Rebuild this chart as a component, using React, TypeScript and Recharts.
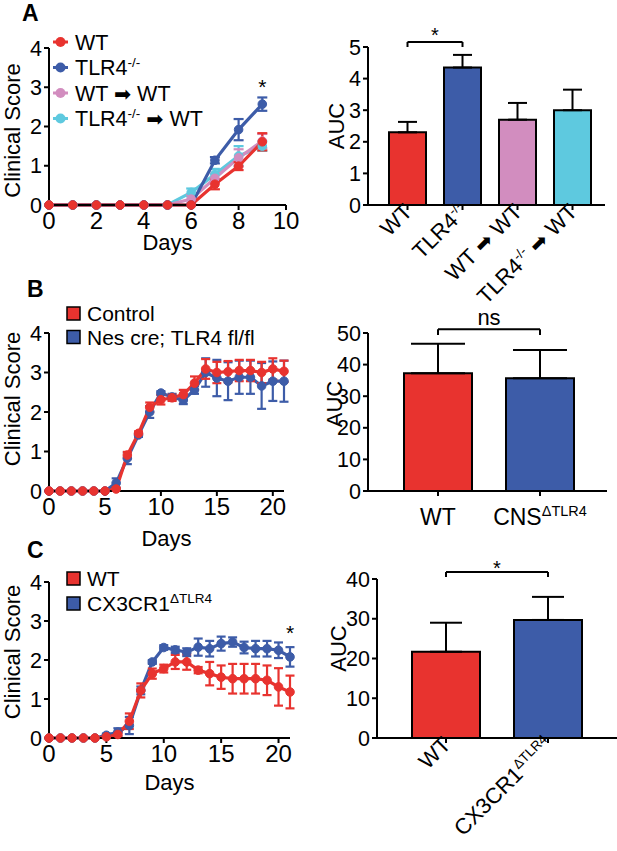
import React from 'react';
import {
  LineChart, Line, XAxis, YAxis, ErrorBar, BarChart, Bar, Cell,
  ReferenceLine, ReferenceDot,
} from 'recharts';

const FONT = '"Liberation Sans", Arial, Helvetica, sans-serif';
const RED = '#E8332F';
const BLUE = '#3D5CA8';
const PINK = '#D28DBF';
const CYAN = '#5EC9DF';

// ---------- Panel A: clinical score ----------
const daysA = [0, 1, 2, 3, 4, 5, 6, 7, 8, 9];
const aWT = [0, 0, 0, 0, 0, 0, 0, 0.53, 0.99, 1.61];
const aWTErr = [0, 0, 0, 0, 0, 0, 0, 0.13, 0.1, 0.22];
const aKO = [0, 0, 0, 0, 0, 0, 0, 1.14, 1.92, 2.57];
const aKOErr = [0, 0, 0, 0, 0, 0, 0, 0.08, 0.27, 0.17];
const aWW = [0, 0, 0, 0, 0, 0, 0.15, 0.68, 1.2, 1.63];
const aWWErr = [0, 0, 0, 0, 0, 0, 0.1, 0.12, 0.22, 0.18];
const aKW = [0, 0, 0, 0, 0, 0, 0.32, 0.78, 1.25, 1.5];
const aKWErr = [0, 0, 0, 0, 0, 0, 0.1, 0.14, 0.25, 0.12];
const aNames = ['WT', 'TLR4^{-/-}', 'WT ➡ WT', 'TLR4^{-/-} ➡ WT'];

// ---------- Panel A: AUC ----------
const aucACats = ['WT', 'TLR4^{-/-}', 'WT ➡ WT', 'TLR4^{-/-} ➡ WT'];
const aucAVals = [2.3, 4.35, 2.7, 3.0];
const aucAErr = [0.33, 0.4, 0.53, 0.65];

// ---------- Panel B: clinical score ----------
const daysBC = [0, 1, 2, 3, 4, 5, 6, 7, 8, 9, 10, 11, 12, 13, 14, 15, 16, 17, 18, 19, 20, 21];
const bCtl = [0, 0, 0, 0, 0, 0, 0.05, 0.91, 1.46, 2.12, 2.31, 2.36, 2.44, 2.73, 3.09, 3.0, 3.02, 3.05, 3.05, 3.0, 3.09, 3.03];
const bCtlErr = [0, 0, 0, 0, 0, 0, 0.04, 0.08, 0.05, 0.12, 0.12, 0.08, 0.12, 0.17, 0.25, 0.27, 0.27, 0.27, 0.27, 0.27, 0.27, 0.27];
const bNes = [0, 0, 0, 0, 0, 0, 0.2, 0.83, 1.42, 2.0, 2.48, 2.38, 2.3, 2.56, 3.0, 2.86, 2.78, 2.88, 2.88, 2.66, 2.78, 2.78];
const bNesErr = [0, 0, 0, 0, 0, 0, 0.12, 0.15, 0.05, 0.15, 0.05, 0.08, 0.1, 0.1, 0.36, 0.46, 0.48, 0.42, 0.42, 0.58, 0.5, 0.52];
const bNames = ['Control', 'Nes cre; TLR4 fl/fl'];

// ---------- Panel B: AUC ----------
const aucBCats = ['WT', 'CNS^{ΔTLR4}'];
const aucBVals = [37.3, 35.7];
const aucBErr = [9.3, 8.9];

// ---------- Panel C: clinical score ----------
const cWT = [0, 0, 0, 0, 0, 0.03, 0.09, 0.43, 1.22, 1.65, 1.78, 1.95, 1.95, 1.74, 1.65, 1.56, 1.52, 1.52, 1.52, 1.48, 1.31, 1.18];
const cWTErr = [0, 0, 0, 0, 0, 0.03, 0.05, 0.2, 0.18, 0.13, 0.1, 0.18, 0.2, 0.08, 0.3, 0.3, 0.38, 0.38, 0.38, 0.38, 0.48, 0.42];
const cKO = [0, 0, 0, 0, 0, 0.07, 0.15, 0.32, 1.22, 1.95, 2.32, 2.26, 2.2, 2.33, 2.29, 2.42, 2.46, 2.32, 2.29, 2.29, 2.25, 2.08];
const cKOErr = [0, 0, 0, 0, 0, 0.04, 0.1, 0.22, 0.1, 0.05, 0.06, 0.08, 0.1, 0.22, 0.2, 0.18, 0.12, 0.15, 0.2, 0.2, 0.2, 0.25];
const cNames = ['WT', 'CX3CR1^{ΔTLR4}'];

// ---------- Panel C: AUC ----------
const aucCCats = ['WT', 'CX3CR1^{ΔTLR4}'];
const aucCVals = [21.7, 29.7];
const aucCErr = [7.3, 5.8];

// ---------- tables ----------
const dataA = daysA.map((d, i) => ({
  day: d, wt: aWT[i], wtE: aWTErr[i], ko: aKO[i], koE: aKOErr[i],
  ww: aWW[i], wwE: aWWErr[i], kw: aKW[i], kwE: aKWErr[i],
}));
const dataB = daysBC.map((d, i) => ({ day: d, c: bCtl[i], cE: bCtlErr[i], n: bNes[i], nE: bNesErr[i] }));
const dataC = daysBC.map((d, i) => ({ day: d, w: cWT[i], wE: cWTErr[i], k: cKO[i], kE: cKOErr[i] }));
const mkBar = (cats: string[], vals: number[], errs: number[]) =>
  cats.map((c, i) => ({ name: c, v: vals[i], e: [0, errs[i]] }));
const barA = mkBar(aucACats, aucAVals, aucAErr);
const barB = mkBar(aucBCats, aucBVals, aucBErr);
const barC = mkBar(aucCCats, aucCVals, aucCErr);

const AX = { stroke: '#000', strokeWidth: 2 };
const yTick = { fill: '#000', fontSize: 21.5, fontFamily: FONT };
const xTick = { fill: '#000', fontSize: 24, fontFamily: FONT };
const titleStyle = { fill: '#000', fontSize: 22, fontFamily: FONT };

// rich text: ^{...} superscript, ➡ arrow
function rich(text: string, size: number, supSize: number) {
  const out: any[] = [];
  const re = /\^\{([^}]*)\}|(➡)|([^\^➡]+)/g;
  let m: RegExpExecArray | null;
  let shift = 0;
  let i = 0;
  const rise = size * 0.38;
  while ((m = re.exec(text))) {
    if (m[1] !== undefined) {
      out.push(<tspan key={i++} dy={-rise} fontSize={supSize}>{m[1]}</tspan>);
      shift = rise;
    } else if (m[2]) {
      out.push(<tspan key={i++} dy={shift} fontFamily='"DejaVu Sans", sans-serif' fontSize={size * 0.95}>{'➡'}</tspan>);
      shift = 0;
    } else {
      out.push(<tspan key={i++} dy={shift}>{m[3]}</tspan>);
      shift = 0;
    }
  }
  return out;
}

const RotTick = (props: any) => {
  const { x, y, payload } = props;
  return (
    <g transform={`translate(${x + 6},${y + 1}) rotate(-45)`}>
      <text x={0} y={0} dy={16} textAnchor="end" fill="#000" fontSize={22} fontFamily={FONT}>
        {rich(String(payload.value), 22, 13.5)}
      </text>
    </g>
  );
};

const FlatTick = (props: any) => {
  const { x, y, payload } = props;
  return (
    <text x={x} y={y + 27} textAnchor="middle" fill="#000" fontSize={23} fontFamily={FONT}>
      {rich(String(payload.value), 23, 14.5)}
    </text>
  );
};

type S = { key: string; err: string; color: string };

function ScorePanel(p: {
  data: any[]; series: S[]; domain: [number, number]; ticks: number[];
  mTop: number; plotH: number; mRight: number; xH: number; labelDy: number;
  star?: { x: number; y: number }; capW: number;
}) {
  return (
    <LineChart width={300} height={p.mTop + p.plotH + p.xH} data={p.data}
      margin={{ top: p.mTop, right: p.mRight, bottom: 0, left: 0 }}>
      <XAxis type="number" dataKey="day" domain={p.domain} ticks={p.ticks} interval={0}
        height={p.xH} axisLine={AX} tickLine={AX} tick={xTick} tickSize={5} tickMargin={2}
        label={{ value: 'Days', position: 'center', ...titleStyle }} />
      <YAxis type="number" domain={[0, 4]} ticks={[0, 1, 2, 3, 4]} interval={0} width={49}
        axisLine={AX} tickLine={AX} tick={yTick} tickSize={5} tickMargin={2}
        label={{ value: 'Clinical Score', angle: -90, position: 'center', dx: -12, dy: p.labelDy, ...titleStyle }} />
      {p.series.map((s) => (
        <Line key={s.key} dataKey={s.key} stroke={s.color} strokeWidth={3.2} isAnimationActive={false}
          dot={{ r: 4.3, fill: s.color, stroke: s.color, strokeWidth: 1 }} activeDot={false}>
          <ErrorBar dataKey={s.err} direction="y" width={p.capW} stroke={s.color} strokeWidth={2.2} isAnimationActive={false} />
        </Line>
      ))}
      {p.star && (
        <ReferenceDot x={p.star.x} y={p.star.y} r={0} fill="none" stroke="none" ifOverflow="visible"
          label={{ value: '*', position: 'center', fontSize: 21, fill: '#000', fontFamily: FONT }} />
      )}
    </LineChart>
  );
}

function AucPanel(p: {
  data: any[]; colors: string[]; yMax: number; yTicks: number[]; width: number;
  mTop: number; plotH: number; mRight: number; yW: number; xH: number; pad: { left: number; right: number };
  barSize: number; capW: number; rotated: boolean; labelDy: number; labelDx: number;
  bracket: { a: string; b: string; y1: number; y0: number; text: string; fs: number; off: number };
}) {
  const br = p.bracket;
  return (
    <BarChart width={p.width} height={p.mTop + p.plotH + p.xH} data={p.data}
      margin={{ top: p.mTop, right: p.mRight, bottom: 0, left: 0 }}>
      <XAxis dataKey="name" type="category" interval={0} padding={p.pad} height={p.xH}
        axisLine={AX} tickLine={AX} tickSize={5} tickMargin={2}
        tick={p.rotated ? <RotTick /> : <FlatTick />} />
      <YAxis type="number" domain={[0, p.yMax]} ticks={p.yTicks} interval={0} width={p.yW}
        axisLine={AX} tickLine={AX} tick={yTick} tickSize={5} tickMargin={2}
        label={{ value: 'AUC', angle: -90, position: 'center', dx: p.labelDx, dy: p.labelDy, ...titleStyle }} />
      <Bar dataKey="v" barSize={p.barSize} stroke="#000" strokeWidth={2} isAnimationActive={false}>
        {p.data.map((d, i) => <Cell key={d.name} fill={p.colors[i]} />)}
        <ErrorBar dataKey="e" direction="y" width={p.capW} stroke="#000" strokeWidth={2} isAnimationActive={false} />
      </Bar>
      <ReferenceLine ifOverflow="visible" stroke="#000" strokeWidth={2}
        segment={[{ x: br.a, y: br.y1 }, { x: br.b, y: br.y1 }]}
        label={{ value: br.text, position: 'top', offset: br.off, fontSize: br.fs, fill: '#000', fontFamily: FONT }} />
      <ReferenceLine ifOverflow="visible" stroke="#000" strokeWidth={2}
        segment={[{ x: br.a, y: br.y1 }, { x: br.a, y: br.y0 }]} />
      <ReferenceLine ifOverflow="visible" stroke="#000" strokeWidth={2}
        segment={[{ x: br.b, y: br.y1 }, { x: br.b, y: br.y0 }]} />
    </BarChart>
  );
}

function LegendLine({ x, y, names, colors }: { x: number; y: number; names: string[]; colors: string[] }) {
  return (
    <g>
      {names.map((n, i) => {
        const cy = y + i * 25.5;
        return (
          <g key={n}>
            <line x1={x} x2={x + 15} y1={cy} y2={cy} stroke={colors[i]} strokeWidth={3} />
            <circle cx={x + 7.5} cy={cy} r={5} fill={colors[i]} />
            <text x={x + 22} y={cy + 7.8} fontSize={21.5} fontFamily={FONT} fill="#000">
              {rich(n, 21.5, 13.5)}
            </text>
          </g>
        );
      })}
    </g>
  );
}

function LegendBox({ x, y, names, colors, gap }: { x: number; y: number; names: string[]; colors: string[]; gap: number }) {
  return (
    <g>
      {names.map((n, i) => {
        const cy = y + i * gap;
        return (
          <g key={n}>
            <rect x={x} y={cy - 6.5} width={13} height={13} fill={colors[i]} stroke="#000" strokeWidth={1.5} />
            <text x={x + 20} y={cy + 7.5} fontSize={21} fontFamily={FONT} fill="#000">
              {rich(n, 21, 13.5)}
            </text>
          </g>
        );
      })}
    </g>
  );
}

const abs = (left: number, top: number): React.CSSProperties => ({ position: 'absolute', left, top });

export default function App() {
  return (
    <div style={{ position: 'absolute', left: 0, top: 0, width: 617, height: 851, background: '#fff', overflow: 'hidden' }}>
      <div style={abs(0, 0)}>
        <ScorePanel data={dataA} domain={[0, 10]} ticks={[0, 2, 4, 6, 8, 10]}
          series={[
            { key: 'kw', err: 'kwE', color: CYAN },
            { key: 'ww', err: 'wwE', color: PINK },
            { key: 'ko', err: 'koE', color: BLUE },
            { key: 'wt', err: 'wtE', color: RED },
          ]}
          mTop={48} plotH={157} mRight={14} xH={74} labelDy={4} capW={5} star={{ x: 9, y: 3.02 }} />
      </div>
      <div style={abs(300, 0)}>
        <AucPanel data={barA} colors={[RED, BLUE, PINK, CYAN]} yMax={5} yTicks={[0, 1, 2, 3, 4, 5]}
          width={317} mTop={47} plotH={158} mRight={12} yW={68} xH={115} pad={{ left: 12, right: 5 }}
          barSize={37} capW={9.5} rotated labelDx={2} labelDy={0}
          bracket={{ a: aucACats[0], b: aucACats[1], y1: 5.16, y0: 5.0, text: '*', fs: 20, off: 0 }} />
      </div>
      <div style={abs(0, 280)}>
        <ScorePanel data={dataB} domain={[0, 21]} ticks={[0, 5, 10, 15, 20]}
          series={[
            { key: 'n', err: 'nE', color: BLUE },
            { key: 'c', err: 'cE', color: RED },
          ]}
          mTop={53} plotH={158} mRight={16} xH={94} labelDy={-13} capW={4.5} />
      </div>
      <div style={abs(300, 280)}>
        <AucPanel data={barB} colors={[RED, BLUE]} yMax={50} yTicks={[0, 10, 20, 30, 40, 50]}
          width={317} mTop={53} plotH={158} mRight={10} yW={68} xH={60} pad={{ left: 19, right: 16 }}
          barSize={68} capW={27} rotated={false} labelDx={0} labelDy={-8}
          bracket={{ a: aucBCats[0], b: aucBCats[1], y1: 51.2, y0: 49.4, text: 'ns', fs: 22, off: 4.5 }} />
      </div>
      <div style={abs(0, 540)}>
        <ScorePanel data={dataC} domain={[0, 21]} ticks={[0, 5, 10, 15, 20]}
          series={[
            { key: 'k', err: 'kE', color: BLUE },
            { key: 'w', err: 'wE', color: RED },
          ]}
          mTop={42} plotH={156} mRight={10} xH={88} labelDy={-8} capW={4.5} star={{ x: 21, y: 2.7 }} />
      </div>
      <div style={abs(300, 540)}>
        <AucPanel data={barC} colors={[RED, BLUE]} yMax={40} yTicks={[0, 10, 20, 30, 40]}
          width={317} mTop={39} plotH={159} mRight={0} yW={77} xH={150} pad={{ left: 18, right: 18 }}
          barSize={68} capW={16} rotated labelDx={0} labelDy={-10}
          bracket={{ a: aucCCats[0], b: aucCCats[1], y1: 41.76, y0: 40.5, text: '*', fs: 20, off: -3 }} />
      </div>
      <svg style={{ position: 'absolute', left: 0, top: 0, pointerEvents: 'none' }} width={617} height={851}>
        <text x={22} y={21} fontSize={23} fontWeight="bold" fontFamily={FONT}>A</text>
        <text x={27} y={297} fontSize={23} fontWeight="bold" fontFamily={FONT}>B</text>
        <text x={27} y={558} fontSize={23} fontWeight="bold" fontFamily={FONT}>C</text>
        <LegendLine x={53} y={42} names={aNames} colors={[RED, BLUE, PINK, CYAN]} />
        <LegendBox x={67} y={313.5} names={bNames} colors={[RED, BLUE]} gap={23.5} />
        <LegendBox x={67} y={578.5} names={cNames} colors={[RED, BLUE]} gap={25} />
      </svg>
    </div>
  );
}
